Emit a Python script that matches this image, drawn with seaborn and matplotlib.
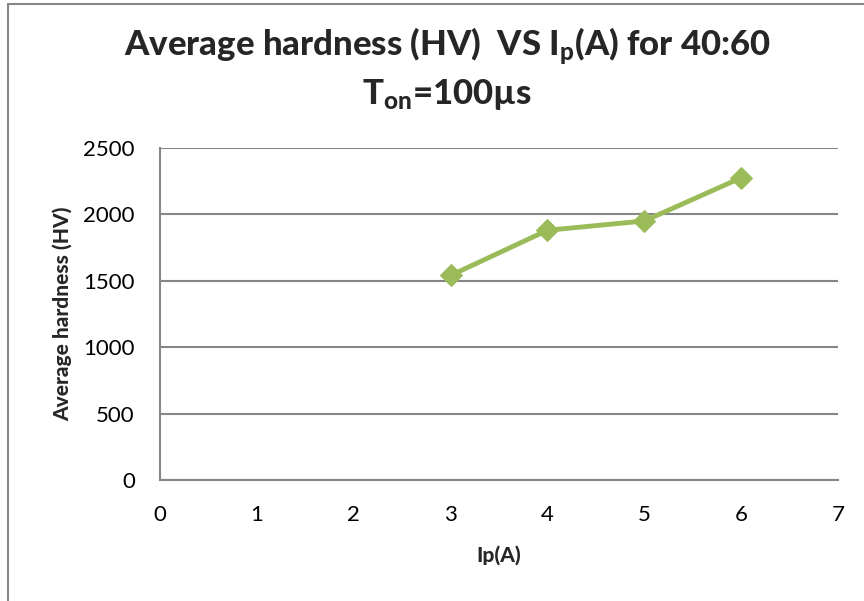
import matplotlib
matplotlib.use('Agg')
import matplotlib.pyplot as plt
import seaborn as sns
import pandas as pd
from matplotlib.lines import Line2D

# data
ip = [3, 4, 5, 6]
hardness = [1540, 1880, 1950, 2275]
x_ticks = [0, 1, 2, 3, 4, 5, 6, 7]
y_ticks = [0, 500, 1000, 1500, 2000, 2500]

df = pd.DataFrame({'Ip(A)': ip, 'Average hardness (HV)': hardness})

sns.set_style('white')
plt.rcParams['font.family'] = ['Lato', 'DejaVu Sans']
plt.rcParams['mathtext.fontset'] = 'custom'
plt.rcParams['mathtext.rm'] = 'Lato:black'
plt.rcParams['mathtext.bf'] = 'Lato:black'
plt.rcParams['mathtext.it'] = 'Lato:black'
plt.rcParams['mathtext.default'] = 'bf'

fig = plt.figure(figsize=(8.64, 6.01), dpi=100)
ax = fig.add_axes([0.185, 0.201, 0.785, 0.553])

sns.lineplot(data=df, x='Ip(A)', y='Average hardness (HV)', ax=ax,
             color='#9BBB59', linewidth=3.5, marker='D', markersize=11,
             markeredgecolor='#9BBB59', zorder=5)

ax.set_xlim(0, 7)
ax.set_ylim(0, 2500)
ax.set_xticks(x_ticks)
ax.set_yticks(y_ticks)
ax.tick_params(axis='both', labelsize=16, colors='#868686', labelcolor='black',
               length=6, width=1.5, direction='out')
ax.tick_params(axis='x', pad=12)
ax.tick_params(axis='y', pad=12)

ax.yaxis.grid(True, color='#868686', linewidth=1.5)
ax.xaxis.grid(False)
for s in ['top', 'right']:
    ax.spines[s].set_visible(False)
for s in ['left', 'bottom']:
    ax.spines[s].set_color('#868686')
    ax.spines[s].set_linewidth(1.5)

ax.set_xlabel('Ip(A)', fontsize=15, fontweight='black', labelpad=14)
ax.set_ylabel('Average hardness (HV)', fontsize=15, fontweight='black', labelpad=8)

fig.text(0.518, 0.922, r'Average hardness (HV)  VS I$_{p}$(A) for 40:60',
         ha='center', va='center', fontsize=25, fontweight='black')
fig.text(0.518, 0.842, r'T$_{on}$=100µs',
         ha='center', va='center', fontsize=25, fontweight='black')

# outer chart border
fig.add_artist(Line2D([0.009, 0.009], [0, 0.993], transform=fig.transFigure,
                      color='#868686', linewidth=1.5))
fig.add_artist(Line2D([0.009, 1], [0.993, 0.993], transform=fig.transFigure,
                      color='#868686', linewidth=1.5))

fig.savefig('out.png', dpi=100)
